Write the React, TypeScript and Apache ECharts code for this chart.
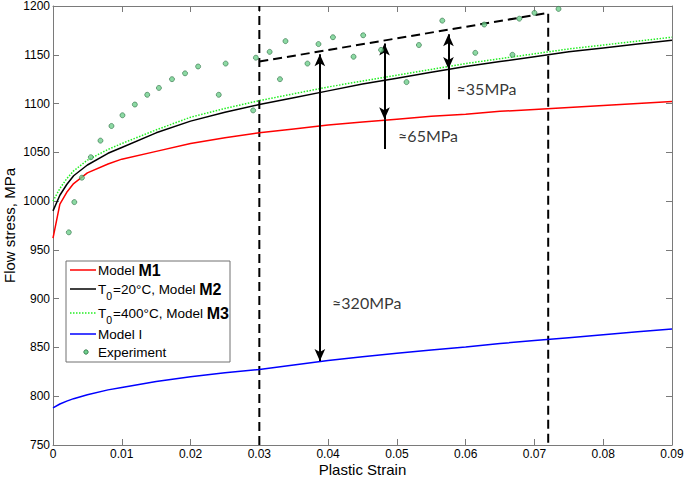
import React, { useEffect, useRef } from 'react';
import * as echarts from 'echarts';

// ---- data ----
const strainGrid = [0, 0.001, 0.002, 0.003, 0.005, 0.008, 0.01, 0.015, 0.02, 0.025, 0.03, 0.035, 0.04, 0.045, 0.05, 0.055, 0.06, 0.065, 0.07, 0.075, 0.08, 0.085, 0.09];
const modelM1 = [962, 997, 1009, 1018, 1029, 1038, 1043, 1051, 1059, 1065, 1070, 1074, 1078, 1081, 1084, 1087, 1089, 1092, 1094, 1096, 1098, 1100, 1102];
const modelM2 = [990, 1006, 1017, 1026, 1037, 1049, 1055, 1070, 1082, 1091, 1099, 1106, 1113, 1120, 1126, 1132, 1138, 1143, 1148, 1153, 1157, 1161, 1165];
const modelM3 = [1000, 1013, 1023, 1031, 1042, 1053, 1059, 1073, 1086, 1095, 1103, 1110, 1117, 1123, 1129, 1135, 1141, 1146, 1151, 1156, 1160, 1164, 1168];
const modelI = [788, 792, 795, 797.5, 801.5, 806.5, 809, 815, 820, 824, 827.5, 832, 836.5, 840.5, 844, 847.5, 850.5, 854, 857, 860, 863, 866, 869];

const expStrain = [0.0023, 0.0031, 0.0042, 0.0055, 0.0069, 0.0085, 0.0101, 0.0119, 0.0137, 0.0154, 0.0173, 0.0192, 0.0211, 0.0241, 0.0251, 0.0291, 0.0295, 0.0315, 0.033, 0.0338, 0.037, 0.0386, 0.0407, 0.0437, 0.0451, 0.0477, 0.0514, 0.0532, 0.0566, 0.0614, 0.0627, 0.0668, 0.0678, 0.07, 0.0735];
const expStress = [968, 999, 1024, 1045, 1062, 1077, 1088, 1099, 1109, 1116, 1125, 1131, 1138, 1109, 1141, 1093, 1147, 1153, 1125, 1164, 1141, 1161, 1168, 1148, 1170, 1155, 1122, 1160, 1185, 1152, 1181, 1150, 1187, 1193, 1197];

// dashed guide lines
const guideLeftStrain = [0.03, 0.03];
const guideLeftStress = [750, 1200];
const guideBoxStrain = [0.03, 0.072, 0.072];
const guideBoxStress = [1143, 1193, 750];

// arrows: strain, lower tip, upper tip, tail end below lower tip (or null)
const arrowStrain = [0.0388, 0.0482, 0.0575];
const arrowLow = [836, 1084, 1135.5];
const arrowHigh = [1150.5, 1161.5, 1171];
const arrowTail = [null, 1053.5, 1104.5];

// annotation labels
const noteText = ['≈320MPa', '≈65MPa', '≈35MPa'];
const noteStrain = [0.0405, 0.0501, 0.0586];
const noteStress = [896, 1067, 1115];

const xTicks = ['0', '0.01', '0.02', '0.03', '0.04', '0.05', '0.06', '0.07', '0.08', '0.09'];

const zip = (xs: number[], ys: number[]) => xs.map((x, i) => [x, ys[i]]);

const AXIS_GRAY = '#7a7a7a';
const FONT = 'Liberation Sans, Arial, sans-serif';

export default function App() {
  const ref = useRef<HTMLDivElement>(null);
  useEffect(() => {
    if (!ref.current) return;
    const chart = echarts.init(ref.current, undefined, { renderer: 'svg' });

    const axisCommon = {
      type: 'value',
      axisLine: { show: true, onZero: false, lineStyle: { color: AXIS_GRAY, width: 1 } },
      axisTick: { show: true, inside: true, length: 6, lineStyle: { color: AXIS_GRAY } },
      splitLine: { show: false },
    };

    const arrowLines: any[] = [];
    arrowStrain.forEach((s, i) => {
      arrowLines.push([
        { coord: [s, arrowLow[i]], symbol: 'arrow' },
        { coord: [s, arrowHigh[i]], symbol: 'arrow' },
      ]);
      const tail = arrowTail[i];
      if (tail !== null) {
        arrowLines.push([
          { coord: [s, tail], symbol: 'none' },
          { coord: [s, arrowLow[i]], symbol: 'none' },
        ]);
      }
    });

    const legendRows = [
      { y: 270, kind: 'line', color: '#ff0000', dash: null, text: '{n|Model }{b|M1}' },
      { y: 289, kind: 'line', color: '#000000', dash: null, text: '{n|T}{s|0}{n|=20°C, Model }{b|M2}' },
      { y: 313, kind: 'line', color: '#22ee22', dash: [1.5, 1.5], text: '{n|T}{s|0}{n|=400°C, Model }{b|M3}' },
      { y: 334, kind: 'line', color: '#0000ff', dash: null, text: '{n|Model I}' },
      { y: 352, kind: 'dot', color: '', dash: null, text: '{n|Experiment}' },
    ];
    const rich = {
      n: { fontSize: 13.5, fontFamily: FONT, fill: '#000' },
      b: { fontSize: 16, fontFamily: FONT, fontWeight: 'bold', fill: '#000' },
      s: { fontSize: 10.5, fontFamily: FONT, fill: '#000', padding: [13, 1, 0, 0] },
    };
    const legendChildren: any[] = [
      { type: 'rect', shape: { x: 66, y: 261, width: 164, height: 101 }, style: { fill: '#fff', stroke: '#707070', lineWidth: 1 } },
    ];
    legendRows.forEach((r) => {
      if (r.kind === 'line') {
        legendChildren.push({
          type: 'line',
          shape: { x1: 70, y1: r.y, x2: 96, y2: r.y },
          style: { stroke: r.color, lineWidth: 1.5, lineDash: r.dash || undefined },
        });
      } else {
        legendChildren.push({
          type: 'circle',
          shape: { cx: 86, cy: r.y, r: 2.2 },
          style: { fill: '#6fd08c', stroke: '#2f6f45', lineWidth: 0.8 },
        });
      }
      legendChildren.push({
        type: 'text',
        x: 98,
        y: r.y,
        style: { text: r.text, rich, verticalAlign: 'middle', align: 'left' },
      });
    });

    const option: any = {
      animation: false,
      grid: { left: 53, right: 13, top: 6, bottom: 32, containLabel: false, outerBoundsMode: 'none' },
      xAxis: [
        {
          ...axisCommon,
          min: 0,
          max: 0.09,
          interval: 0.01,
          position: 'bottom',
          axisLabel: {
            color: '#000',
            fontSize: 12,
            fontFamily: FONT,
            margin: 3,
            formatter: (v: number) => xTicks[Math.round(v / 0.01)] ?? String(v),
          },
          name: 'Plastic Strain',
          nameLocation: 'middle',
          nameGap: 17,
          nameMoveOverlap: false,
          nameTextStyle: { color: '#000', fontSize: 15, fontFamily: FONT },
        },
        {
          ...axisCommon,
          min: 0,
          max: 0.09,
          interval: 0.01,
          position: 'top',
          axisLabel: { show: false },
        },
      ],
      yAxis: [
        {
          ...axisCommon,
          min: 750,
          max: 1200,
          interval: 50,
          position: 'left',
          axisLabel: { color: '#000', fontSize: 12, fontFamily: FONT, margin: 3, formatter: (v: number) => String(v) },
          name: 'Flow stress, MPa',
          nameLocation: 'middle',
          nameGap: 36,
          nameMoveOverlap: false,
          nameTextStyle: { color: '#000', fontSize: 15, fontFamily: FONT },
        },
        {
          ...axisCommon,
          min: 750,
          max: 1200,
          interval: 50,
          position: 'right',
          axisLabel: { show: false },
        },
      ],
      graphic: [{ type: 'group', children: legendChildren, z: 100 }],
      series: [
        {
          name: 'guideLeft',
          type: 'line',
          data: zip(guideLeftStrain, guideLeftStress),
          symbol: 'none',
          lineStyle: { color: '#000', width: 2, type: [9, 5] },
          z: 3,
        },
        {
          name: 'guideBox',
          type: 'line',
          data: zip(guideBoxStrain, guideBoxStress),
          symbol: 'none',
          lineStyle: { color: '#000', width: 2, type: [9, 5] },
          z: 3,
          markLine: {
            silent: true,
            animation: false,
            symbol: ['none', 'none'],
            symbolSize: [8, 12],
            label: { show: false },
            lineStyle: { color: '#000', width: 2, type: 'solid' },
            data: arrowLines,
          },
        },
        {
          name: 'Model M1',
          type: 'line',
          data: zip(strainGrid, modelM1),
          symbol: 'none',
          lineStyle: { color: '#ff0000', width: 1.5 },
          z: 4,
        },
        {
          name: 'Model M2',
          type: 'line',
          data: zip(strainGrid, modelM2),
          symbol: 'none',
          lineStyle: { color: '#000000', width: 1.5 },
          z: 4,
        },
        {
          name: 'Model M3',
          type: 'line',
          data: zip(strainGrid, modelM3),
          symbol: 'none',
          lineStyle: { color: '#22ee22', width: 1.5, type: [1.5, 1.5] },
          z: 4,
        },
        {
          name: 'Model I',
          type: 'line',
          data: zip(strainGrid, modelI),
          symbol: 'none',
          lineStyle: { color: '#0000ff', width: 1.5 },
          z: 4,
        },
        {
          name: 'Experiment',
          type: 'scatter',
          data: zip(expStrain, expStress),
          symbol: 'circle',
          symbolSize: 5,
          itemStyle: { color: '#6fd08c', borderColor: '#2f6f45', borderWidth: 0.8 },
          z: 5,
        },
        {
          name: 'notes',
          type: 'scatter',
          data: noteText.map((t, i) => ({ name: t, value: [noteStrain[i], noteStress[i]] })),
          symbolSize: 1,
          itemStyle: { color: 'rgba(0,0,0,0)' },
          label: {
            show: true,
            position: 'right',
            distance: 0,
            formatter: (p: any) => p.name,
            color: '#000',
            fontSize: 16,
            fontFamily: 'Lato, sans-serif',
          },
          labelLayout: { hideOverlap: false },
          z: 6,
        },
      ],
    };
    chart.setOption(option);
    return () => chart.dispose();
  }, []);

  return <div ref={ref} style={{ width: 685, height: 477, position: 'absolute', left: 0, top: 0, background: '#fff' }} />;
}
